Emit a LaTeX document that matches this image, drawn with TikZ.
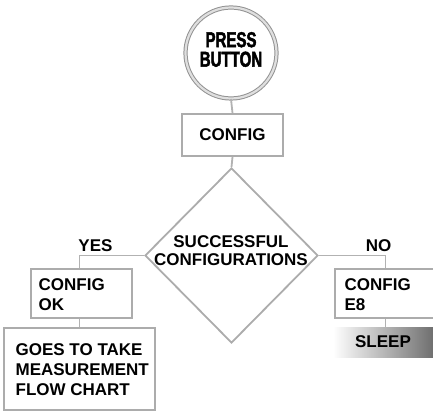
\documentclass[tikz,border=0pt]{standalone}
\usepackage{fontspec}
\setmainfont{Liberation Sans}
\newfontfamily\heavy{Liberation Sans}[UprightFont={* Bold}, FakeBold=2.2, FakeStretch=0.7]
\usetikzlibrary{shapes.geometric,calc}
\tikzset{
  box/.style={draw=gray!65, line width=1.8pt, fill=white, minimum width=101pt, inner sep=0pt},
  txt/.style={font=\fontsize{17}{20}\selectfont\bfseries, text=black},
  conn/.style={draw=gray!60, line width=1.8pt},
}
\begin{document}
\begin{tikzpicture}[x=1pt,y=-1pt]
\useasboundingbox (0,0) rectangle (433,411);
% start circle
\node[circle, draw=gray!85, line width=1pt, double=gray!25, double distance=2.2pt,
      minimum size=91pt, inner sep=0pt, fill=white] (start) at (231,53) {};
\node[font=\fontsize{21.5}{19.5}\selectfont\heavy, align=center] (starttxt) at (231,49.5) {PRESS\\BUTTON};
% config box
\node[box, minimum height=42pt] (config) at (232.5,135) {};
\node[txt] (configtxt) at (config.center) {CONFIG};
% diamond
\node[diamond, draw=gray!65, line width=1.8pt, fill=white, minimum width=173pt,
      minimum height=175pt, inner sep=0pt] (dec) at (231.5,255.5) {};
\node[txt, font=\fontsize{17}{18}\selectfont\bfseries, align=center] (dectxt) at (231,250.5) {SUCCESSFUL\\CONFIGURATIONS};
% yes branch
\node[box, minimum height=49pt] (ok) at (81.5,293.5) {};
\node[txt, align=left, anchor=west] (oktxt) at ([xshift=5pt,yshift=-1pt]ok.west) {CONFIG\\OK};
\node[box, minimum width=151pt, minimum height=82pt] (goes) at (79.5,369) {};
\node[txt, align=left, anchor=west] (goestxt) at ([xshift=9pt,yshift=-1pt]goes.west) {GOES TO TAKE\\MEASUREMENT\\FLOW CHART};
% no branch
\node[box, minimum height=49pt] (e8) at (385.5,293.5) {};
\node[txt, align=left, anchor=west] (e8txt) at ([xshift=7pt,yshift=-1pt]e8.west) {CONFIG\\E8};
\node[left color=white, right color=black!62, minimum width=110pt, minimum height=30pt,
      inner sep=0pt] (sleep) at (388,342) {};
\node[txt] (sleeptxt) at (383,342) {SLEEP};
% labels
\node[txt] (yes) at (95.5,246) {YES};
\node[txt] (no) at (378.5,246) {NO};
% connectors
\path[conn] (start.south) -- (config.north);
\path[conn] (config.south) -- (dec.north);
\path[conn] (dec.west) -| (ok.north -| goes.north);
\path[conn] (ok.south -| goes.north) -- (goes.north);
\path[conn] (dec.east) -| (e8.north);
\path[conn] (e8.south) -- (e8.south |- sleep.north);
\end{tikzpicture}
\end{document}
